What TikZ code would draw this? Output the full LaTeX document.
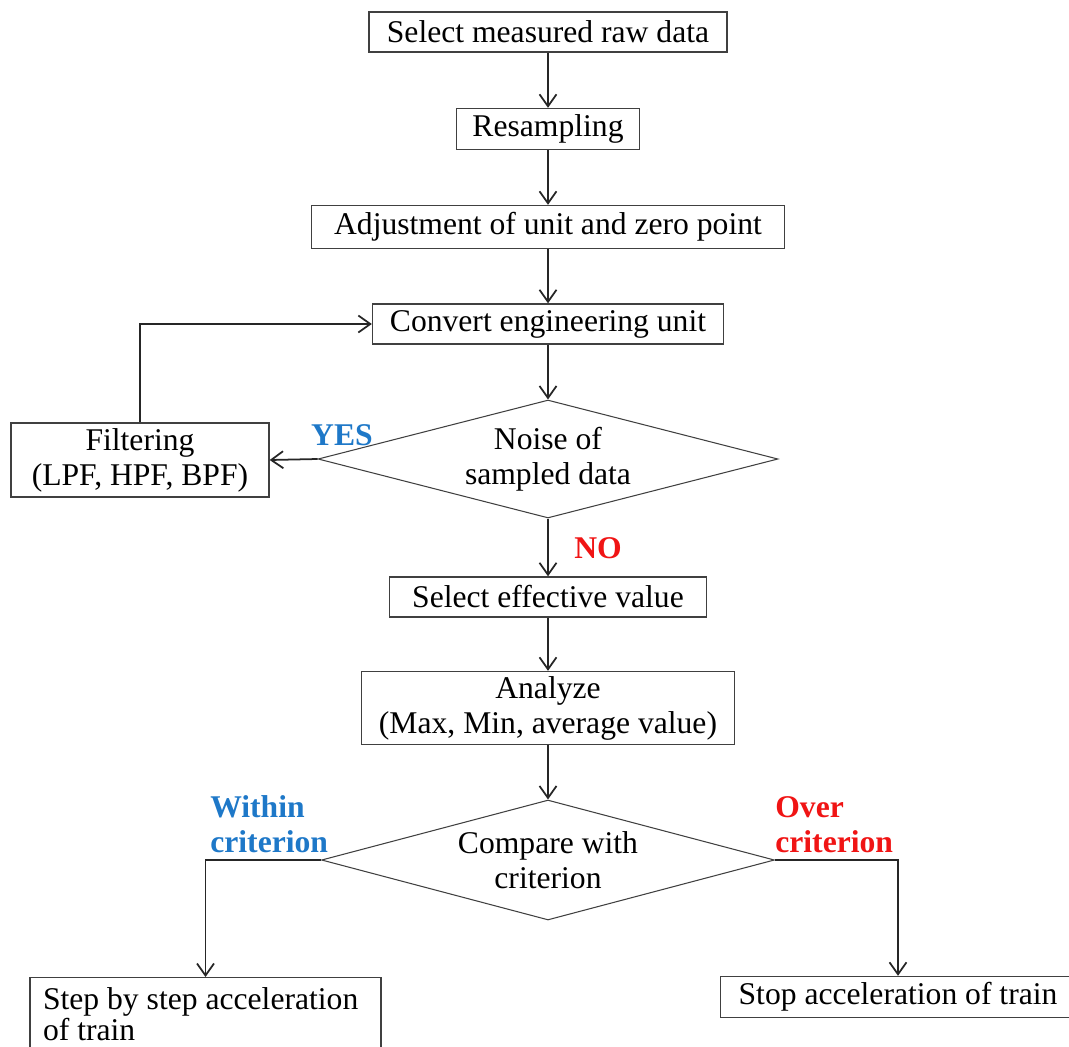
\documentclass[tikz,border=0pt]{standalone}
\usepackage{fontspec}
\setmainfont{Liberation Serif}
\usetikzlibrary{arrows.meta, positioning, shapes.geometric}
\definecolor{yesblue}{RGB}{30,120,200}
\definecolor{nored}{RGB}{240,20,20}

\begin{document}
\begin{tikzpicture}[x=0.02cm, y=-0.02cm, font=\fontsize{18}{20}\selectfont,
    box/.style={draw=black!75, line width=0.8pt, rectangle, inner sep=0pt, align=center},
    decision/.style={draw=black!75, line width=0.6pt, diamond, aspect=3.9, inner sep=0pt, align=center},
    flow/.style={-{Straight Barb[length=2.4mm, width=3.4mm]}, line width=1pt, black!85},
    yeslbl/.style={font=\fontsize{18}{20}\selectfont\bfseries, text=yesblue, align=left},
    nolbl/.style={font=\fontsize{18}{20}\selectfont\bfseries, text=nored, align=left}]
    \useasboundingbox (0,0) rectangle (1069,1046);

    % main chain
    \node[box, minimum width=7.16cm, minimum height=0.8cm] (raw) at (548,32) {Select measured raw data};
    \node[box, minimum width=3.66cm, minimum height=0.82cm] (resamp) at (548,129) {Resampling};
    \node[box, minimum width=9.46cm, minimum height=0.86cm] (adjust) at (548,227) {Adjustment of unit and zero point};
    \node[box, minimum width=7.02cm, minimum height=0.8cm] (conv) at (548,324) {Convert engineering unit};
    \node[decision, minimum width=9.2cm, minimum height=2.36cm] (noise) at (548,459) {Noise of\\sampled data};
    \node[box, minimum width=5.16cm, minimum height=1.48cm] (filt) at (140,460) {Filtering\\(LPF, HPF, BPF)};
    \node[box, minimum width=6.34cm, minimum height=0.8cm] (effect) at (548,597) {Select effective value};
    \node[box, minimum width=7.46cm, minimum height=1.46cm] (analyze) at (548,708) {Analyze\\(Max, Min, average value)};
    \node[decision, minimum width=9.06cm, minimum height=2.4cm] (cmp) at (548,860) {Compare with\\criterion};

    % results
    \node[box, anchor=north, minimum width=7.02cm, minimum height=1.45cm, text width=6.5cm, align=flush left,
          inner ysep=3pt, font=\fontsize{18}{16.5}\selectfont] (step) at (205.5,977) {Step by step acceleration\\of train};
    \node[box, minimum width=7.1cm, minimum height=0.82cm] (stop) at (898,997) {Stop acceleration of train};

    % labels
    \node[yeslbl] (yes) at (342,435) {YES};
    \node[nolbl] (no) at (598,548) {NO};
    \node[yeslbl, anchor=south west, inner xsep=0pt, inner ysep=2pt] (within) at (210,857) {Within\\criterion};
    \node[nolbl, anchor=south west, inner xsep=0pt, inner ysep=2pt] (over) at (775,857) {Over\\criterion};

    % connectors
    \draw[flow] (raw) -- (resamp);
    \draw[flow] (resamp) -- (adjust);
    \draw[flow] (adjust) -- (conv);
    \draw[flow] (conv) -- (noise);
    \draw[flow] (noise.west) -- (filt.east);
    \draw[flow] (filt.north) |- (conv.west);
    \draw[flow] (noise) -- (effect);
    \draw[flow] (effect) -- (analyze);
    \draw[flow] (analyze) -- (cmp);
    \draw[flow] (cmp.west) -| (step.north);
    \draw[flow] (cmp.east) -| (stop.north);
\end{tikzpicture}
\end{document}
